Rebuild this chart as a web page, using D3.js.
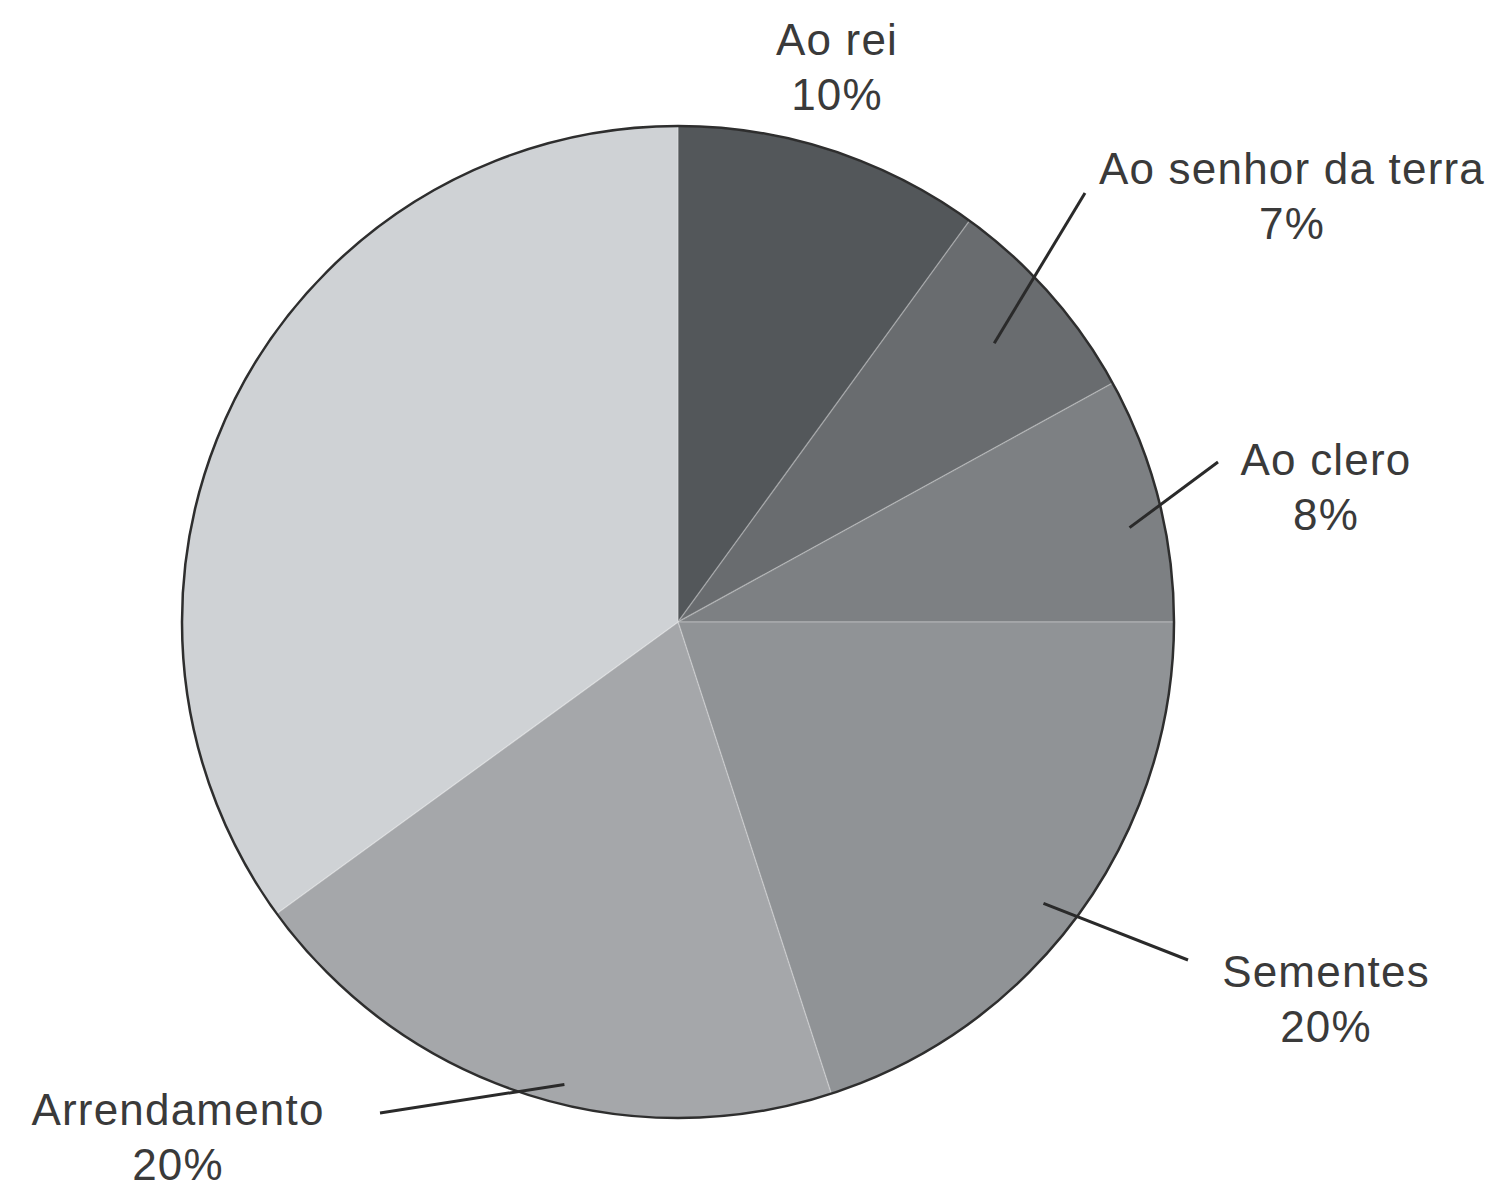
<!DOCTYPE html>
<html>
<head>
<meta charset="utf-8">
<script src="https://cdn.jsdelivr.net/npm/d3@7"></script>
<style>
  body { margin: 0; background: #fff; }
  text { font-family: "Liberation Sans", Arial, sans-serif; fill: #3a3a3a; }
</style>
</head>
<body>
<div id="chart"></div>
<script>
// data (percent)
var categories = ["Ao rei", "Ao senhor da terra", "Ao clero", "Sementes", "Arrendamento", "Restante"];
var values = [10, 7, 8, 20, 20, 35];
var labels = ["10%", "7%", "8%", "20%", "20%", null];

var fills = ["#53575a", "#696c6f", "#7d8083", "#909396", "#a5a7aa", "#cfd2d5"];

// label layout: text centre + first baseline, leader end, leader start (radius fraction, angle nudge)
var labelLayout = [
  { x: 837,  y: 55,   lead: null },
  { x: 1292, y: 184,  lead: { x: 1085, y: 193, k: 0.85, da: 0 } },
  { x: 1326, y: 475,  lead: { x: 1218, y: 462, k: 0.93, da: 2.6 } },
  { x: 1326, y: 987,  lead: { x: 1188, y: 960, k: 0.93, da: 1.6 } },
  { x: 178,  y: 1125, lead: { x: 380,  y: 1113, k: 0.96, da: -4.2 } },
  null
];

var width = 1499, height = 1193;
var cx = 678, cy = 622, R = 496;
var lineGap = 55;

var svg = d3.select("#chart").append("svg")
  .attr("width", width)
  .attr("height", height);

var g = svg.append("g")
  .attr("transform", "translate(" + cx + "," + cy + ")");

var pie = d3.pie().sort(null).value(function(d) { return d; });
var arcs = pie(values);

var arc = d3.arc().innerRadius(0).outerRadius(R);

g.selectAll("path.slice")
  .data(arcs)
  .enter()
  .append("path")
    .attr("class", "slice")
    .attr("d", arc)
    .style("fill", function(d, i) { return fills[i]; })
    .style("stroke", "rgba(255,255,255,0.22)")
    .style("stroke-width", 1.5);

// outer ring
g.append("circle")
  .attr("r", R)
  .style("fill", "none")
  .style("stroke", "#2e2e2e")
  .style("stroke-width", 2.5);

// leader lines
arcs.forEach(function(d, i) {
  var lay = labelLayout[i];
  if (!lay || !lay.lead) return;
  var a = (d.startAngle + d.endAngle) / 2 + lay.lead.da * Math.PI / 180;
  var r = R * lay.lead.k;
  g.append("line")
    .attr("x1", r * Math.sin(a))
    .attr("y1", -r * Math.cos(a))
    .attr("x2", lay.lead.x - cx)
    .attr("y2", lay.lead.y - cy)
    .style("stroke", "#2a2a2a")
    .style("stroke-width", 3);
});

// labels
arcs.forEach(function(d, i) {
  var lay = labelLayout[i];
  if (!lay) return;
  var t = svg.append("text")
    .attr("text-anchor", "middle")
    .style("font-size", "44px")
    .style("letter-spacing", "1.2px");
  t.append("tspan").attr("x", lay.x).attr("y", lay.y).text(categories[i]);
  t.append("tspan").attr("x", lay.x).attr("y", lay.y + lineGap).text(labels[i]);
});
</script>
</body>
</html>
